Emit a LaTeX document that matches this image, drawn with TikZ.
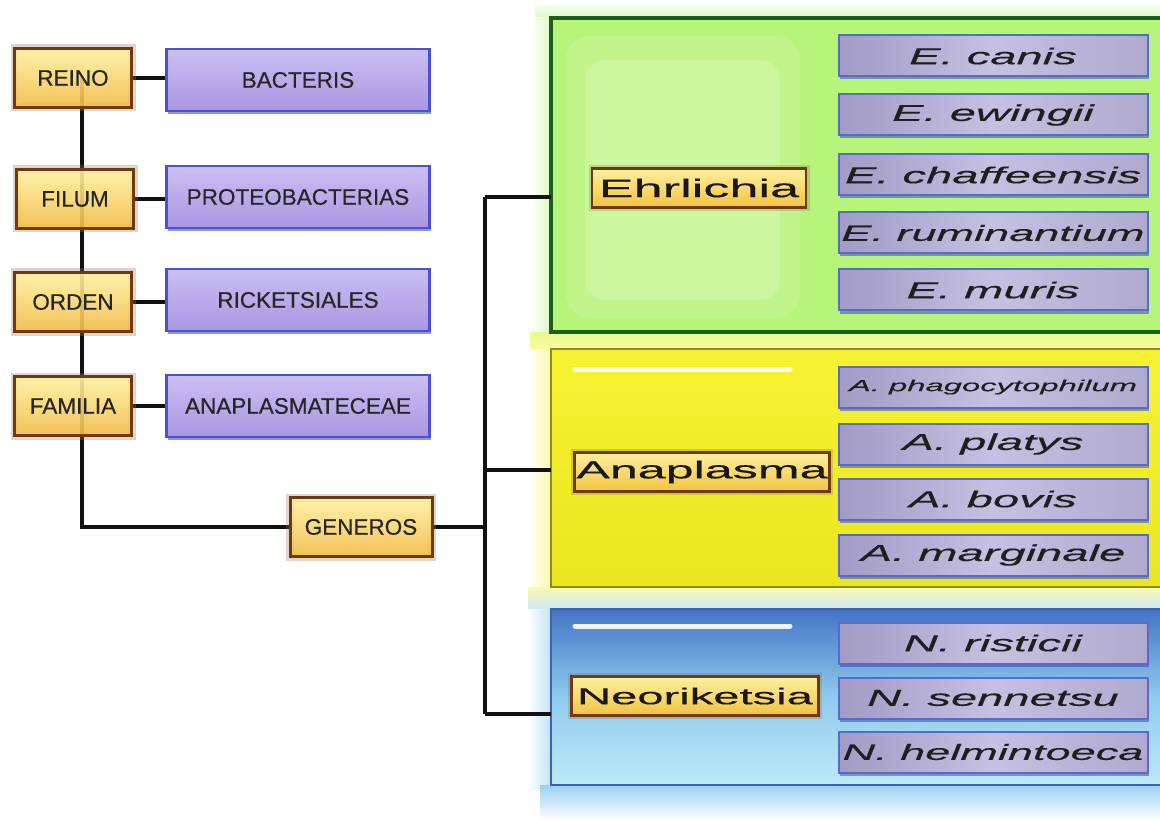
\documentclass[tikz,border=0pt]{standalone}
\usepackage{fontspec}
\setmainfont{Liberation Sans}
\newfontfamily\labelfont[FakeBold=0.5]{Liberation Sans}
\newfontfamily\widefont[FakeStretch=2.05,FakeBold=0.4]{Liberation Sans}
\usetikzlibrary{shadows}
\definecolor{rankTop}{HTML}{FFF0A0}
\definecolor{rankBot}{HTML}{F2BC45}
\definecolor{rankBorder}{HTML}{6E3A0E}
\definecolor{taxTop}{HTML}{CBBFF3}
\definecolor{taxBot}{HTML}{A996E2}
\definecolor{taxBorder}{HTML}{4A52D2}
\definecolor{spMid}{HTML}{C6C0E2}
\definecolor{spSide}{HTML}{A19BC6}
\definecolor{spBorder}{HTML}{566CCC}
\definecolor{shBlue}{HTML}{3442A6}
\definecolor{grnFill}{HTML}{B6F47A}
\definecolor{grnInner}{HTML}{C4F58E}
\definecolor{grnBorder}{HTML}{1C5E1C}
\definecolor{ylwFill}{HTML}{F6F222}
\definecolor{ylwBorder}{HTML}{8C8A22}
\definecolor{bluTop}{HTML}{4474C4}
\definecolor{bluMid}{HTML}{8FCBEE}
\definecolor{bluBot}{HTML}{BEEAF8}
\definecolor{bluBorder}{HTML}{3A62B0}
\definecolor{lineCol}{HTML}{111111}
\pgfdeclarelayer{grp}
\pgfdeclarelayer{lines}
\pgfsetlayers{grp,lines,main}
\begin{document}
\begin{tikzpicture}[x=1pt,y=-1pt,
  rank/.style={draw=rankBorder, line width=3pt, top color=rankTop, bottom color=rankBot,
    fill opacity=0.9, text opacity=1, minimum width=117, minimum height=59, inner sep=0,
    font=\labelfont\fontsize{22.5}{24}\selectfont, text=black!85,
    preaction={draw=rankBorder!70, line width=8pt, opacity=0.3}},
  taxon/.style={draw=taxBorder, line width=2.4pt, top color=taxTop, bottom color=taxBot,
    minimum width=263, minimum height=62, inner sep=0,
    font=\labelfont\fontsize{22.5}{24}\selectfont, text=black!85,
    drop shadow={shadow xshift=1pt, shadow yshift=-3pt, fill=shBlue, opacity=0.55}},
  genus/.style={draw=rankBorder, line width=2.8pt, top color=rankTop, bottom color=rankBot!90!yellow,
    minimum height=39, inner sep=0, text=black!90,
    preaction={draw=rankBorder!70, line width=7pt, opacity=0.3}},
  spbox/.style={draw=spBorder, line width=2pt, left color=spSide, right color=spSide!85!white, middle color=spMid,
    minimum width=309, minimum height=41, inner sep=0,
    font=\widefont\itshape\fontsize{23}{25}\selectfont, text=black!88,
    drop shadow={shadow xshift=1pt, shadow yshift=-3pt, fill=shBlue, opacity=0.5}},
  grpbox/.style={draw=none, minimum width=680},
  conn/.style={draw=lineCol, line width=3.4pt},
  hilite/.style={draw=white, line width=5pt, line cap=round, opacity=0.9}
]
\useasboundingbox (0,0) rectangle (1160,821);

% ---------- group backgrounds ----------
\begin{pgfonlayer}{grp}
  \clip (0,0) rectangle (1160,821);
  % glows
  \fill[top color=white, bottom color=grnFill!50] (535,2) rectangle (1160,18);
  \fill[left color=white, right color=grnFill!45] (530,18) rectangle (551,332);
  \fill[top color=grnFill!55!yellow!60, bottom color=ylwFill!45] (530,332) rectangle (1160,349);
  \fill[left color=white, right color=ylwFill!40] (528,349) rectangle (551,590);
  \fill[top color=ylwFill!35, bottom color=bluMid!45] (528,587) rectangle (1160,609);
  \fill[left color=white, right color=bluMid!55] (528,609) rectangle (551,790);
  \fill[top color=bluMid!90, bottom color=white] (540,785) rectangle (1160,820);
  % green group
  \node[grpbox, fill=grnFill, minimum height=314] (ehrgrp) at (891,175) {};
  \draw[grnBorder, line width=3.8pt] (ehrgrp.north east) -- (ehrgrp.north west) -- (ehrgrp.south west) -- (ehrgrp.south east);
  \fill[grnInner, opacity=0.8, rounded corners=24] (566,36) rectangle (800,318);
  \fill[grnInner!70!white, opacity=0.5, rounded corners=20] (585,60) rectangle (780,300);
  % yellow group
  \node[grpbox, top color=ylwFill!92!white, bottom color=ylwFill!95!black, minimum height=238] (anagrp) at (891,468) {};
  \draw[ylwBorder, line width=2.4pt] (anagrp.north east) -- (anagrp.north west) -- (anagrp.south west) -- (anagrp.south east);
  \draw[hilite] (575,369) -- (790,369);
  % blue group
  \node[grpbox, top color=bluTop, bottom color=bluBot, middle color=bluMid, minimum height=176] (neogrp) at (891,697) {};
  \draw[bluBorder, line width=2.4pt] (neogrp.north east) -- (neogrp.north west) -- (neogrp.south west) -- (neogrp.south east);
  \draw[hilite] (575,626) -- (790,626);
\end{pgfonlayer}

% ---------- left hierarchy ----------
\node[rank] (reino) at (73,78) {REINO};
\node[rank] (filum) at (75,199) {FILUM};
\node[rank] (orden) at (73,302) {ORDEN};
\node[rank] (familia) at (73,406) {FAMILIA};

\node[taxon] (bact) at (298,80) {BACTERIS};
\node[taxon] (prot) at (298,197) {PROTEOBACTERIAS};
\node[taxon] (rick) at (298,300) {RICKETSIALES};
\node[taxon] (anap) at (298,406) {ANAPLASMATECEAE};

\node[rank, minimum width=142] (gen) at (361,527) {GENEROS};

% ---------- genus labels ----------
\node[genus, minimum width=214, font=\widefont\fontsize{25.5}{27}\selectfont] (ehr) at (699,188) {Ehrlichia};
\node[genus, minimum width=255, font=\widefont\fontsize{24.5}{27}\selectfont] (ana) at (702,472) {Anaplasma};
\node[genus, minimum width=247, font=\widefont\fontsize{23}{27}\selectfont] (neo) at (695,696) {Neoriketsia};

% ---------- species ----------
\node[spbox] (ecan) at (993,56) {E. canis};
\node[spbox] (eewi) at (993,115) {E. ewingii};
\node[spbox] (echa) at (993,175) {E. chaffeensis};
\node[spbox, font=\widefont\itshape\fontsize{22}{25}\selectfont] (erum) at (993,233) {E. ruminantium};
\node[spbox] (emur) at (993,290) {E. muris};

\node[spbox, font=\widefont\itshape\fontsize{16}{18}\selectfont] (apha) at (993,387) {A. phagocytophilum};
\node[spbox] (apla) at (993,444) {A. platys};
\node[spbox] (abov) at (993,499) {A. bovis};
\node[spbox] (amar) at (993,555) {A. marginale};

\node[spbox] (nris) at (993,643) {N. risticii};
\node[spbox] (nsen) at (993,698) {N. sennetsu};
\node[spbox, font=\widefont\itshape\fontsize{22}{25}\selectfont] (nhel) at (993,752) {N. helmintoeca};

% ---------- connectors ----------
\coordinate (ltop) at (82,78);
\coordinate (lbot) at (82,527);
\coordinate (rt1) at (485,197);
\coordinate (rt2) at (485,470);
\coordinate (rt3) at (485,714);
\begin{pgfonlayer}{lines}
  \draw[conn] (ltop) -- (lbot) -- (gen.west);
  \draw[conn] (reino.east) -- (reino.east -| bact.west);
  \draw[conn] (filum.east) -- (filum.east -| prot.west);
  \draw[conn] (orden.east) -- (orden.east -| rick.west);
  \draw[conn] (familia.east) -- (familia.east -| anap.west);
  \draw[conn] (gen.east) -- (gen.east -| rt1);
  \draw[conn] (rt1) -- (rt3);
  \draw[conn] (rt1) -- (rt1 -| ehrgrp.west);
  \draw[conn] (rt2) -- (rt2 -| anagrp.west);
  \draw[conn] (rt3) -- (rt3 -| neogrp.west);
\end{pgfonlayer}
\end{tikzpicture}
\end{document}
